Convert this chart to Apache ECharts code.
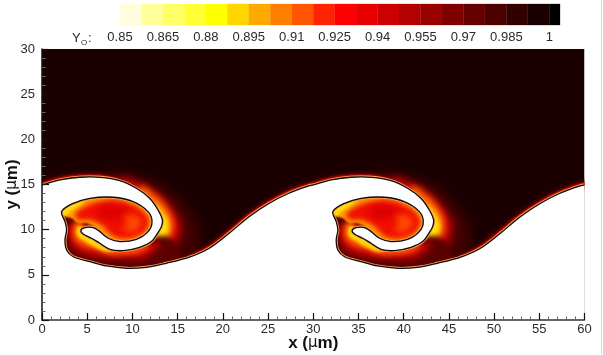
<!DOCTYPE html>
<html><head><meta charset="utf-8">
<script src="https://cdn.jsdelivr.net/npm/echarts@6/dist/echarts.min.js"></script>
<style>html,body{margin:0;padding:0;background:#fff}#c{width:603px;height:356px}</style>
</head><body><div id="c"></div>
<script>
// Y_O = 0.85 iso-line over one 30 um period
const interfaceOnePeriod = [[0,14.95],[1.99,15.5],[4.19,15.8],[6.4,15.8],[8.6,15.43],[10.44,14.58],[11.9,13.47],[12.83,12.18],[13.31,11.08],[13.2,10.34],[12.83,9.67],[12.1,8.68],[10.81,8.05],[8.97,7.68],[7.5,7.83],[6.4,8.49],[5.48,9.05],[4.56,9.53],[4.3,9.9],[4.74,10.23],[5.66,10.23],[6.4,9.78],[7.32,9.05],[8.6,8.68],[10.44,8.93],[11.73,9.78],[12.17,10.89],[11.73,12],[10.07,13.1],[7.87,13.59],[5.29,13.47],[3.46,12.92],[2.17,12],[2.54,10.89],[2.72,9.97],[2.54,8.86],[2.72,7.75],[3.46,7],[5.29,6.46],[7.13,5.98],[9.34,5.72],[11.55,5.83],[13.75,6.28],[16.3,6.95],[18.5,7.94],[20.7,9.6],[22.9,11.44],[25.1,12.9],[27.3,14.03],[29.5,14.84]];
// Iso-regions of the Y_O field around the roll-up
const glowDark = [[7.13,16.06],[10.81,15.69],[13.38,14.77],[15.22,13.29],[16.7,11.45],[17.3,9.6],[17.2,7.75],[14.49,5.91],[8.97,5.17],[10.81,10.34]];
const crescentRed = [[8.6,15.69],[11.18,14.95],[13.2,13.66],[14.6,12],[15.3,10.52],[15,8.86],[13.9,7.6],[11.91,6.8],[10.07,7],[10.81,10.34],[8.97,14.03]];
const crescentOrange = [[10.81,14.77],[12.65,13.66],[13.93,12.18],[14.5,10.71],[14.2,9.23],[13.2,8.12],[11.91,7.68],[11.54,10.34]];
const crescentYellow = [[12.46,12.74],[13.57,11.63],[14,10.52],[13.75,9.41],[12.83,8.49],[12.1,8.49],[12.46,10.71]];
const bandDark = [[2.06,12.18],[1.99,7.38],[3.46,6.28],[7.13,5.35],[10.81,5.17],[14.49,5.91],[15.5,6.9],[13.75,9.23],[8.97,8.49],[4.19,10.71]];
const bandRed = [[2.91,10.34],[3.09,8.49],[3.82,7.57],[6.03,6.94],[8.97,6.72],[11.54,6.94],[13.02,8.49],[8.97,8.49],[5.66,9.6],[4.19,10.71]];
const bandOrange = [[3.46,10.52],[3.46,9.05],[4.38,8.2],[6.03,7.68],[7.5,7.2],[8.97,7.2],[10.81,7.46],[11.91,8.31],[8.97,8.31],[5.29,9.6],[4.19,10.89]];
const bandYellow = [[3.9,10.34],[3.9,9.3],[4.74,8.68],[5.85,8.05],[7.13,7.57],[7.87,7.75],[5.29,9.78],[4.38,10.34]];
const blobOrange = [[2.06,12.18],[3.46,13.1],[5.29,13.73],[7.87,13.84],[10.26,13.29],[12.1,12.18],[12.46,10.89],[11.91,9.41],[10.44,8.68],[8.6,8.42],[7.13,8.86],[6.03,10.15],[4.93,10.71],[4.01,10.71],[3.27,11.26],[2.54,11.52]];
const blobTip = [[1.99,12],[2.72,12.74],[3.82,13.22],[4.74,13.29],[4.01,12.55],[3.09,12],[2.54,11.45]];
const blobRed = [[3.64,11.63],[4.74,12.55],[6.21,13.1],[8.05,13.29],[10.07,12.74],[11.47,11.74],[11.84,10.78],[11.36,9.78],[10.26,9.16],[8.79,9.01],[7.68,9.41],[6.58,10.52],[5.29,11.08],[4.19,11.08]];
const blobCore = [[6.03,12.18],[7.87,12.74],[9.52,12.18],[10.26,11.45],[8.6,11.26],[7.5,11.08],[6.4,11.45]];
const blobSwirl = [[8.97,11.45],[10.26,11.63],[10.99,10.71],[10.07,9.78],[8.97,9.97],[9.52,10.71]];
const plotCorners = [[0,0],[60,0],[60,30],[0,30]];
// Colour bar
const colorbarTicks = ['0.85','0.865','0.88','0.895','0.91','0.925','0.94','0.955','0.97','0.985','1'];
const colorbarColors = ['#fffddc','#ffff99','#ffff66','#ffff33','#ffff00','#ffd500','#ffaa00','#ff8000','#ff5500','#ff2200','#ff0000','#e60000','#cc0000','#b30000','#990000','#800000','#660000','#4d0000','#330000','#1a0000','#000000'];

const PERIOD = 30;
const shift = (pts, dx) => pts.map(p => [p[0] + dx, p[1]]);
const curve = [].concat(
  shift(interfaceOnePeriod.slice(-3), -PERIOD),
  interfaceOnePeriod,
  shift(interfaceOnePeriod, PERIOD),
  shift(interfaceOnePeriod.slice(0, 2), 2 * PERIOD));
const belowCurve = curve.concat([[curve[curve.length-1][0], -4], [curve[0][0], -4]]);

const layers = [];
const fill = (pts, color, soft, smooth) => layers.push({pts, kind:'polygon', color, soft, smooth});
const stroke = (pts, color, width, soft) => layers.push({pts, kind:'polyline', color, width, soft, smooth:0.35});

fill(plotCorners, '#1b0002', 0, 0);
stroke(curve, '#4a0000', 9, 4);
stroke(curve, '#a80000', 6, 2);
stroke(curve, '#f03000', 3.6, 1);
[0, PERIOD].forEach(dx => {
  [[glowDark,'#460000',12],[crescentRed,'#d80000',8],[crescentOrange,'#ff7000',6],[crescentYellow,'#ffe800',5],
   [bandDark,'#5a0000',5],[bandRed,'#c00000',6],[bandOrange,'#ff5000',5],[bandYellow,'#ffd800',3],
   [blobOrange,'#ff9c00',2],[blobTip,'#ffe000',3],[blobRed,'#f01000',5],[blobCore,'#dc0000',7],[blobSwirl,'#ff4a00',6]]
  .forEach(l => fill(shift(l[0], dx), l[1], l[2], 0.4));
});
stroke(curve, '#ff9a50', 3, 0);
fill(belowCurve, '#ffffff', 0, 0.3);
stroke(curve, '#0a0a0a', 1.3, 0);

const chart = echarts.init(document.getElementById('c'), null, {renderer:'canvas'});
const FONT = '"Liberation Sans", Arial, sans-serif';
const GAP = {fontFamily:FONT, color:'#2a2a2a', fontSize:13};
const mu = {fontFamily:'"DejaVu Sans"', fontSize:15, fontWeight:'normal', color:'#111'};
const boldName = {fontFamily:FONT, fontSize:17, fontWeight:'bold', color:'#111'};
const OFF = 3000;

chart.setOption({
  animation:false,
  backgroundColor:'#fff',
  grid:[{left:42, top:49, width:542.5, height:271, outerBoundsMode:'none'}, {left:120, top:4, width:440, height:21, outerBoundsMode:'none'}],
  xAxis:[{
    type:'value', gridIndex:0, min:0, max:60, interval:5, z:10,
    axisLine:{show:true, onZero:false, lineStyle:{color:'#333', width:1.5}},
    axisTick:{show:true, inside:true, length:7, lineStyle:{color:'#111', width:1.2}},
    minorTick:{show:true, splitNumber:5, length:3.5, lineStyle:{color:'#666', width:1}},
    splitLine:{show:false},
    axisLabel:Object.assign({margin:3}, GAP),
    name:'{b|x (}{m|µ}{b|m)}', nameLocation:'middle', nameGap:15, nameMoveOverlap:false,
    nameTextStyle:{rich:{b:boldName, m:mu}}
  },{
    type:'value', gridIndex:1, min:0, max:20.5, interval:2,
    axisLine:{show:false}, axisTick:{show:false}, splitLine:{show:false},
    axisLabel:Object.assign({margin:6, showMaxLabel:false,
      formatter:v => { const t = colorbarTicks[v/2]; return t === undefined ? '' : t; }}, GAP)
  }],
  yAxis:[{
    type:'value', gridIndex:0, min:0, max:30, interval:5, z:10,
    axisLine:{show:true, onZero:false, lineStyle:{color:'#111', width:1.5}},
    axisTick:{show:true, inside:true, length:7, lineStyle:{color:'#111', width:1.2}},
    minorTick:{show:true, splitNumber:5, length:3.5, lineStyle:{color:'#666', width:1}},
    splitLine:{show:false},
    axisLabel:Object.assign({margin:7}, GAP),
    name:'{b|y (}{m|µ}{b|m)}', nameLocation:'middle', nameGap:21, nameMoveOverlap:false,
    nameTextStyle:{rich:{b:boldName, m:mu}}
  },{
    type:'value', gridIndex:1, min:0, max:1, show:false
  }],
  graphic:[
    {type:'text', left:72, top:32, style:{text:'Y', fontFamily:FONT, fontSize:13, fill:'#2a2a2a'}},
    {type:'text', left:81, top:39, style:{text:'O', fontFamily:FONT, fontSize:8, fill:'#2a2a2a'}},
    {type:'text', left:88, top:32, style:{text:':', fontFamily:FONT, fontSize:13, fill:'#2a2a2a'}},
    {type:'rect', shape:{x:601, y:0, width:1, height:356}, style:{fill:'#dcdcdc'}},
    {type:'rect', shape:{x:0, y:355, width:603, height:1}, style:{fill:'#dcdcdc'}}
  ],
  series:[{
    type:'custom', xAxisIndex:0, yAxisIndex:0, coordinateSystem:'cartesian2d',
    data:layers.map((l,i)=>[i]), silent:true,
    renderItem(params, api){
      const l = layers[api.value(0)], c = params.coordSys;
      // Soft layers: the shape itself sits off-canvas, only its blurred shadow lands in the plot
      const off = l.soft ? OFF : 0;
      const points = l.pts.map(p => { const q = api.coord(p); return [q[0] - off, q[1]]; });
      const clipPath = {type:'rect', shape:{x:c.x, y:c.y, width:c.width, height:c.height}};
      const shadow = l.soft ? {shadowBlur:l.soft, shadowColor:l.color, shadowOffsetX:OFF} : {};
      if (l.kind === 'polygon') {
        return {type:'polygon', clipPath, shape:{points, smooth:l.smooth},
          style:Object.assign({fill:l.color}, shadow)};
      }
      return {type:'polyline', clipPath, shape:{points, smooth:l.smooth},
        style:Object.assign({fill:null, stroke:l.color, lineWidth:l.width, lineJoin:'round'}, shadow)};
    }
  },{
    type:'custom', xAxisIndex:1, yAxisIndex:1, coordinateSystem:'cartesian2d',
    data:colorbarColors.map((c,i)=>[i, i === colorbarColors.length-1 ? 20.5 : i+1]), silent:true,
    renderItem(params, api){
      const a = api.coord([api.value(0), 1]), b = api.coord([api.value(1), 0]);
      const color = colorbarColors[params.dataIndex];
      return {type:'rect', shape:{x:a[0], y:a[1], width:b[0]-a[0], height:b[1]-a[1]}, style:{fill:color, stroke:color, lineWidth:0.3}};
    }
  }]
});
</script></body></html>
